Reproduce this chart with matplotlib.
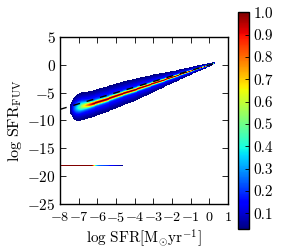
import numpy as np
import matplotlib
matplotlib.use('Agg')
import matplotlib.pyplot as plt

plt.rcParams.update({
    'font.family': 'serif',
    'font.serif': ['cmr10'],
    'mathtext.fontset': 'cm',
    'axes.formatter.use_mathtext': True,
    'font.size': 11,
    'axes.linewidth': 1.0,
})

# Column-normalised density of the main sequence
col_x   = [-7.40, -7.30, -7.15, -7.00, -6.80, -6.60, -6.40, -6.20, -5.50, -4.80, -4.00, -3.00, -2.00, -1.00, 0.00, 0.30]
ridge_y = [-7.90, -7.85, -7.75, -7.60, -7.45, -7.30, -7.15, -6.95, -6.20, -5.35, -4.50, -3.35, -2.25, -1.10, 0.00, 0.35]
peak    = [0.06, 0.18, 0.32, 0.45, 0.58, 0.72, 0.88, 1.00, 1.00, 1.00, 1.00, 1.00, 1.00, 1.00, 1.00, 0.30]
plateau = [0.06, 0.15, 0.22, 0.26, 0.27, 0.26, 0.25, 0.24, 0.22, 0.20, 0.20, 0.20, 0.20, 0.20, 0.20, 0.15]
core_w  = [0.50, 0.55, 0.55, 0.52, 0.46, 0.38, 0.32, 0.28, 0.26, 0.24, 0.22, 0.18, 0.13, 0.09, 0.05, 0.03]
outer_w = [0.90, 1.80, 2.30, 2.50, 2.50, 2.45, 2.40, 2.40, 2.30, 2.20, 2.00, 1.60, 1.10, 0.70, 0.35, 0.15]

# Row of galaxies with no FUV SFR, placed at log SFR_FUV = -18
zero_level = -18.0
zero_x = [-8.0, -6.3, -6.2, -6.1, -6.0, -5.9, -5.5, -5.2, -4.9, -4.6]
zero_v = [1.00, 1.00, 0.70, 0.45, 0.32, 0.25, 0.20, 0.14, 0.08, 0.04]

# one-to-one reference line
dash_x = [-8.0, 0.3]

x_ticks = list(range(-8, 2))
y_ticks = list(range(-25, 6, 5))
cb_ticks = [0.1, 0.2, 0.3, 0.4, 0.5, 0.6, 0.7, 0.8, 0.9, 1.0]

vmin = 0.03
x_edges = np.linspace(-8, 1, 181)
y_edges = np.linspace(-25, 5, 168)
xc = 0.5 * (x_edges[1:] + x_edges[:-1])
yc = 0.5 * (y_edges[1:] + y_edges[:-1])

Z = np.zeros((len(yc), len(xc)))
inside = (xc >= col_x[0] - 0.03) & (xc <= col_x[-1])
r = np.interp(xc, col_x, ridge_y)
p = np.interp(xc, col_x, peak)
b = np.interp(xc, col_x, plateau)
s1 = np.interp(xc, col_x, core_w)
wo = np.interp(xc, col_x, outer_w)
for j in np.where(inside)[0]:
    d = yc - r[j]
    s2 = wo[j] / np.sqrt(2 * np.log(max(b[j], vmin * 1.05) / vmin))
    Z[:, j] = (p[j] - b[j]) * np.exp(-0.5 * (d / s1[j]) ** 2) + b[j] * np.exp(-0.5 * (d / s2) ** 2)
iz = np.searchsorted(y_edges, zero_level) - 1
zv = np.interp(xc, zero_x, zero_v, right=0.0)
Z[iz, :] = np.maximum(Z[iz, :], zv)
Zm = np.ma.masked_less(Z, vmin)

fig = plt.figure(figsize=(2.81, 2.52), dpi=100)
ax = fig.add_axes([0.2135, 0.1905, 0.598, 0.6627])
mesh = ax.pcolormesh(x_edges, y_edges, Zm, cmap='jet', vmin=vmin, vmax=1.0, shading='flat')
ax.plot(dash_x, dash_x, color='black', linestyle='--', dashes=(5, 5), lw=1.0)
ax.set_xlim(-8, 1)
ax.set_ylim(-25, 5)
ax.set_xticks(x_ticks)
ax.set_yticks(y_ticks)
ax.tick_params(direction='in', top=True, right=True, length=4, width=0.6)
ax.tick_params(axis='y', labelsize=11, pad=3)
ax.tick_params(axis='x', labelsize=10.2, pad=5)
ax.set_xlabel(r'$\log\,\mathrm{SFR}[\mathrm{M}_{\odot}\mathrm{yr}^{-1}]$', fontsize=11, labelpad=2)
ax.set_ylabel(r'$\log\,\mathrm{SFR}_{\mathrm{FUV}}$', fontsize=11.5, labelpad=2)

cax = fig.add_axes([0.846, 0.091, 0.040, 0.860])
cb = fig.colorbar(mesh, cax=cax, ticks=cb_ticks)
cb.ax.set_yticklabels(['%.1f' % t for t in cb_ticks])
cb.ax.tick_params(direction='in', length=3, width=0.6, labelsize=11, pad=3)
cb.outline.set_linewidth(1.0)

fig.savefig('out.png', dpi=100)
